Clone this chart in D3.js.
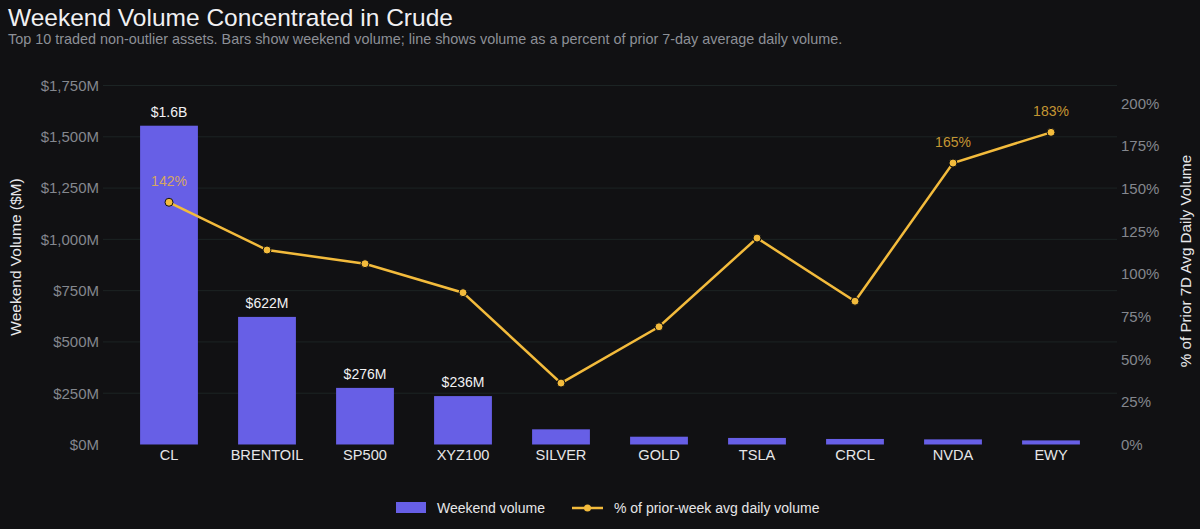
<!DOCTYPE html>
<meta charset="utf-8">
<script src="https://d3js.org/d3.v7.min.js"></script>
<style>
  body { margin: 0; background: #111113; }
  text { font-family: "Helvetica Neue", Helvetica, Arial, "Liberation Sans", sans-serif; }
</style>
<div id="chart"></div>
<script>

// data
var assets = ["CL", "BRENTOIL", "SP500", "XYZ100", "SILVER", "GOLD", "TSLA", "CRCL", "NVDA", "EWY"];
var weekendVolume = [1554, 622, 276, 236, 74, 38, 32, 27, 25, 20];      // $M
var pctOfPrior = [142, 114, 106, 89, 36, 69, 121, 84, 165, 183];        // % of prior 7D avg
var barLabels = ["$1.6B", "$622M", "$276M", "$236M", "", "", "", "", "", ""];
var pctLabelled = ["CL", "NVDA", "EWY"];
var leftTicks = [0, 250, 500, 750, 1000, 1250, 1500, 1750];
var rightTicks = [0, 25, 50, 75, 100, 125, 150, 175, 200];

var W = 1200, H = 529;
var plot = {left: 103, right: 1117, top: 85.5, bottom: 444.5};

var svg = d3.select("#chart").append("svg")
    .attr("width", W).attr("height", H)
    .style("background", "#111113");

var x = d3.scaleBand()
  .domain(assets)
  .range([120, 1100])
  .paddingInner(0.41)
  .paddingOuter(0.205);

var yL = d3.scaleLinear().domain([0, 1750]).range([plot.bottom, plot.top]);
var yR = d3.scaleLinear().domain([0, 183 * 1.15]).range([plot.bottom, plot.top]);

// title
svg.append("text")
  .attr("x", 8).attr("y", 25.5)
  .style("font-size", "24.5px").style("fill", "#f0f0f2")
  .text("Weekend Volume Concentrated in Crude");
svg.append("text")
  .attr("x", 8).attr("y", 43.5)
  .style("font-size", "14.4px").style("fill", "#8d9097")
  .text("Top 10 traded non-outlier assets. Bars show weekend volume; line shows volume as a percent of prior 7-day average daily volume.");

// gridlines from left axis
svg.append("g").selectAll("line")
  .data(leftTicks.slice(1))
  .enter().append("line")
  .attr("x1", plot.left).attr("x2", plot.right)
  .attr("y1", function(d){ return yL(d) }).attr("y2", function(d){ return yL(d) })
  .style("stroke", "#1c2424").style("stroke-width", 1);

// left axis
var leftAxis = svg.append("g")
  .attr("transform", "translate(" + plot.left + ",0)")
  .call(d3.axisLeft(yL).tickValues(leftTicks).tickSize(0).tickPadding(4)
    .tickFormat(function(d){ return "$" + d3.format(",")(d) + "M" }));
leftAxis.select(".domain").remove();
leftAxis.selectAll("text").style("font-size", "15px").style("fill", "#84878e");

// right axis
var rightAxis = svg.append("g")
  .attr("transform", "translate(" + plot.right + ",0)")
  .call(d3.axisRight(yR).tickValues(rightTicks).tickSize(0).tickPadding(4)
    .tickFormat(function(d){ return d + "%" }));
rightAxis.select(".domain").remove();
rightAxis.selectAll("text").style("font-size", "15px").style("fill", "#84878e");

// axis titles
svg.append("text")
  .attr("transform", "translate(21,257) rotate(-90)")
  .attr("text-anchor", "middle")
  .style("font-size", "15.5px").style("fill", "#e8e8ea")
  .text("Weekend Volume ($M)");
svg.append("text")
  .attr("transform", "translate(1191,261) rotate(-90)")
  .attr("text-anchor", "middle")
  .style("font-size", "15.2px").style("fill", "#e8e8ea")
  .text("% of Prior 7D Avg Daily Volume");

// bars
svg.append("g").selectAll("rect")
  .data(assets)
  .enter().append("rect")
  .attr("x", function(d){ return x(d) })
  .attr("width", x.bandwidth())
  .attr("y", function(d, i){ return yL(weekendVolume[i]) })
  .attr("height", function(d, i){ return plot.bottom - yL(weekendVolume[i]) })
  .style("fill", "#675fe6");

// bar labels
svg.append("g").selectAll("text")
  .data(assets)
  .enter().append("text")
  .attr("x", function(d){ return x(d) + x.bandwidth() / 2 })
  .attr("y", function(d, i){ return yL(weekendVolume[i]) - 9 })
  .attr("text-anchor", "middle")
  .style("font-size", "14px").style("fill", "#f2f2f4")
  .text(function(d, i){ return barLabels[i] });

// x axis
var xAxis = svg.append("g")
  .attr("transform", "translate(0," + plot.bottom + ")")
  .call(d3.axisBottom(x).tickSize(0).tickPadding(5));
xAxis.select(".domain").remove();
xAxis.selectAll("text").style("font-size", "14.6px").style("fill", "#e6e6e8");

// line
var cx = function(d){ return x(d) + x.bandwidth() / 2 };
svg.append("path")
  .datum(assets)
  .attr("d", d3.line()
    .x(cx)
    .y(function(d, i){ return yR(pctOfPrior[i]) }))
  .style("fill", "none")
  .style("stroke", "#f3bb3c")
  .style("stroke-width", 2.5);

svg.append("g").selectAll("circle")
  .data(assets)
  .enter().append("circle")
  .attr("cx", cx)
  .attr("cy", function(d, i){ return yR(pctOfPrior[i]) })
  .attr("r", 4)
  .style("fill", "#f3bb3c")
  .style("stroke", "#111113").style("stroke-width", 1);

// percent labels
svg.append("g").selectAll("text")
  .data(assets.filter(function(d){ return pctLabelled.indexOf(d) >= 0 }))
  .enter().append("text")
  .attr("x", cx)
  .attr("y", function(d){ return yR(pctOfPrior[assets.indexOf(d)]) - 16 })
  .attr("text-anchor", "middle")
  .style("font-size", "14px").style("fill", "#f3bb3c").style("fill-opacity", 0.8)
  .text(function(d){ return pctOfPrior[assets.indexOf(d)] + "%" });

// legend
var legend = svg.append("g");
legend.append("rect")
  .attr("x", 396).attr("y", 502).attr("width", 30).attr("height", 11)
  .style("fill", "#675fe6");
legend.append("text")
  .attr("x", 437).attr("y", 513)
  .style("font-size", "14px").style("fill", "#e6e6e8")
  .text("Weekend volume");
legend.append("line")
  .attr("x1", 572).attr("x2", 603).attr("y1", 508).attr("y2", 508)
  .style("stroke", "#f3bb3c").style("stroke-width", 2.5);
legend.append("circle")
  .attr("cx", 587.5).attr("cy", 508).attr("r", 3.5)
  .style("fill", "#f3bb3c");
legend.append("text")
  .attr("x", 614).attr("y", 513)
  .style("font-size", "14px").style("fill", "#e6e6e8")
  .text("% of prior-week avg daily volume");

</script>
